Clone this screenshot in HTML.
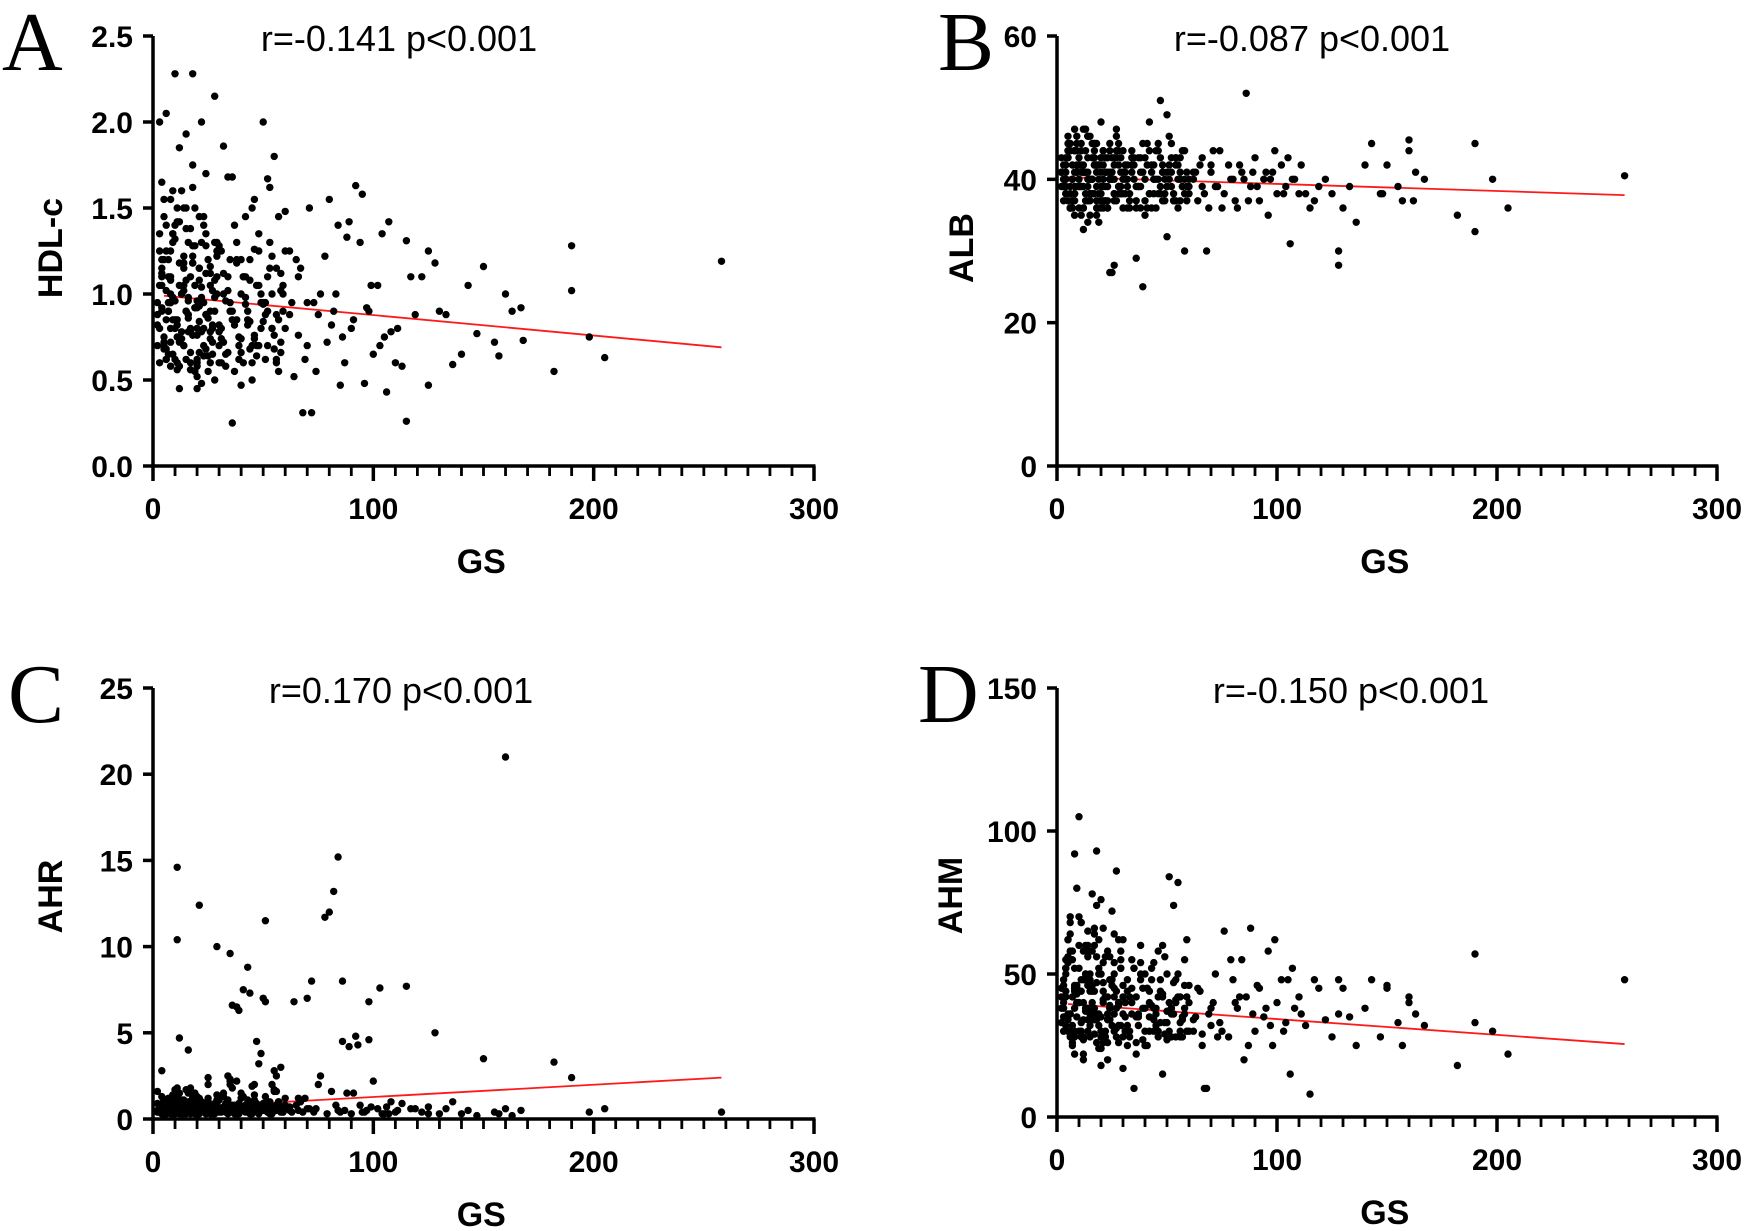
<!DOCTYPE html>
<html><head><meta charset="utf-8">
<style>
html,body{margin:0;padding:0;background:#fff;}
svg{display:block;}
.tick{font-family:"Liberation Sans",sans-serif;font-weight:bold;font-size:30px;fill:#000;}
.ttl{font-family:"Liberation Sans",sans-serif;font-size:36px;fill:#000;}
.axt{font-family:"Liberation Sans",sans-serif;font-weight:bold;font-size:34px;fill:#000;}
.let{font-family:"Liberation Serif",serif;font-size:84px;fill:#000;}
</style></head>
<body>
<svg id="fig" width="1748" height="1231" viewBox="0 0 1748 1231" xmlns="http://www.w3.org/2000/svg"></svg>
<script>
// Shared GS values (x) for all panels
const gs = [3,4,5,6,7,8,9,10,11,12,13,14,15,16,17,18,19,20,21,22,23,24,25,26,27,28,29,30,
3,5,7,9,11,13,15,17,19,21,23,25,27,29,
4,6,8,10,12,14,16,18,20,22,24,26,28,
2,4,6,8,10,12,14,16,18,20,22,24,26,28,30,
3,5,8,11,14,17,20,23,26,29,
2,3,4,5,6,7,8,9,10,11,12,13,14,15,16,17,18,19,20,21,5,7,9,11,13,15,17,19,21,23,6,9,12,15,18,21,24,27,4,8,
31,32,33,34,35,36,37,38,39,40,41,42,43,44,45,46,47,48,49,50,51,52,53,54,55,56,57,58,59,60,
31,33,35,37,39,41,43,45,47,49,51,53,55,57,59,
32,36,40,44,48,52,56,60,34,38,42,46,50,54,58,
62,64,66,68,70,72,74,76,78,80,82,84,86,88,90,92,94,96,98,100,102,104,106,108,110,
63,67,71,75,79,83,87,91,95,99,103,107,111,115,119,
65,73,81,89,97,105,113,117,69,85,
122,125,128,130,133,136,140,143,147,150,155,157,160,163,167,182,190,198,205,258];
// Additional patients, GS values (core region)
const gs2 = [2,4,6,8,10,12,14,16,18,20,22,24,26,28,30,32,34,36,38,40,42,44,46,48,50,52,54,56,58,60,
3,5,7,9,11,13,15,17,19,21,23,25,27,29,31,33,35,37,39,41,43,45,47,49,51,53,55,57,59,
2,3,4,5,6,7,8,9,10,11,12,13,14,15,16,17,18,19,20,21,22,23,24,25,26,27,28,29,30,31,
4,6,8,10,12,14,16,18,20,22,24,26,28,30,32,34,36,38,40,42,44,46,48,50,52,54,56,58,62,66,70];

const hdl = [2.0,1.2,0.75,1.4,0.9,1.1,0.65,2.28,0.85,1.85,1.0,0.7,1.93,1.3,0.8,2.28,1.5,0.6,1.15,2.0,0.95,1.7,0.55,1.05,0.8,2.15,1.25,0.7,
0.6,1.55,0.95,1.35,0.75,1.6,0.9,1.1,0.55,1.45,0.8,1.2,0.65,1.0,
1.65,0.85,1.25,0.62,1.05,1.5,0.78,1.75,0.92,1.3,0.68,1.12,0.5,
0.88,1.05,2.05,0.72,1.4,0.58,1.18,0.98,1.62,0.8,0.48,1.28,0.9,1.08,0.6,
1.35,0.7,1.0,0.82,1.22,0.6,0.96,1.45,0.74,1.1,
0.95,0.8,1.1,0.68,1.25,0.9,0.58,1.3,0.85,1.5,0.72,1.0,1.15,0.62,0.88,1.38,0.76,1.05,0.52,0.93,1.2,0.65,0.98,1.42,0.78,1.08,0.56,1.28,0.84,0.7,1.02,1.6,0.74,0.9,1.18,0.66,1.35,0.82,1.12,0.95,
0.8,1.86,0.65,1.1,0.9,1.68,0.55,1.3,0.75,1.0,0.6,1.45,0.85,1.2,0.5,1.55,0.7,1.05,0.95,2.0,0.62,1.67,1.62,0.8,1.8,1.15,1.45,0.72,0.9,1.25,
1.25,0.58,0.95,1.4,0.7,1.1,0.82,1.5,0.64,1.0,0.88,1.3,0.76,0.55,1.05,
1.0,0.25,1.2,0.68,1.35,0.9,0.6,1.48,1.68,0.85,1.1,0.74,0.95,1.22,0.66,
1.25,0.52,1.1,0.31,0.7,0.31,0.55,1.0,1.22,1.55,0.9,1.4,0.75,1.33,0.8,1.63,1.3,0.48,0.9,0.65,1.05,1.35,0.43,0.78,0.6,
0.95,1.15,1.5,0.88,0.72,1.0,0.6,0.85,1.58,1.05,0.7,1.42,0.8,1.31,0.88,
1.2,0.95,0.82,1.42,0.92,0.75,0.58,1.1,0.62,0.47,
1.1,1.25,1.18,0.9,0.88,0.59,0.65,1.05,0.77,1.16,0.72,0.64,1.0,0.9,0.92,0.55,1.28,0.75,0.63,1.19];
const hdl2 = [0.82,1.15,0.68,0.95,1.32,0.74,1.05,0.88,1.22,0.62,0.98,1.12,0.78,0.9,1.28,0.72,1.02,0.85,1.18,0.66,0.94,1.08,0.76,1.25,0.84,0.7,1.0,0.88,1.12,0.8,
1.05,0.72,1.2,0.85,0.6,1.0,1.38,0.78,0.92,1.15,0.64,0.86,1.02,1.3,0.74,0.96,1.2,0.82,0.62,1.1,0.9,0.7,1.05,0.8,0.95,1.15,0.68,0.85,1.0,
0.7,1.25,0.9,1.45,0.62,1.1,0.8,1.35,0.96,0.56,1.18,0.74,1.02,1.5,0.86,0.66,1.28,0.92,0.58,1.08,0.78,1.4,0.88,0.64,1.16,0.72,0.98,1.22,0.82,0.6,
0.92,0.62,1.08,0.8,1.42,0.7,0.96,1.18,0.76,1.04,0.88,0.6,1.3,0.78,1.12,0.66,0.9,1.2,0.74,0.98,0.84,1.26,0.7,0.94,1.1,0.8,0.62,1.02,0.88,0.76,0.95];
const hdlExtraX = [115,125,190,168,20,40,12,8,45];
const hdlExtraY = [0.26,0.47,1.02,0.73,0.45,0.47,0.45,1.55,0.6];

const alb = [42,38,45,36,40,47,39,43,35,41,44,37,46,40,38,42,34,48,39,41,36,44,40,37,43,45,39,41,
40,43,37,46,39,41,35,44,38,42,36,40,47,38,
41,36,44,39,42,34,40,45,37,43,41,28,39,
39,42,36,44,40,33,46,38,41,43,37,27,40,44,38,
40,44,37,42,39,45,36,41,43,38,
41,39,43,37,45,40,38,42,36,44,39,41,46,37,40,43,35,42,38,40,44,36,41,39,47,38,42,40,37,43,39,45,41,38,42,36,40,44,39,41,
38,42,36,44,40,37,43,39,41,35,45,38,42,40,36,44,39,41,37,49,40,43,38,42,36,41,39,44,37,40,
41,37,43,39,25,42,36,44,38,40,46,37,42,39,41,
40,29,43,38,41,45,37,39,42,36,48,40,39,43,30,
40,37,43,30,41,39,44,38,42,40,36,41,52,39,43,37,40,35,41,38,42,39,31,40,38,
41,38,44,36,40,42,37,39,41,44,38,40,42,36,39,
42,39,37,41,40,43,38,37,36,40,
40,38,28,36,39,34,42,45,38,42,39,37,44,41,40,35,32.7,40,36,40.5];
const alb2 = [41,38,44,39,42,36,40,43,37,41,39,45,38,42,40,36,43,39,41,37,44,40,38,42,39,41,37,43,40,38,
39,43,37,41,45,38,40,42,36,44,39,41,37,43,40,38,42,39,45,36,41,40,43,38,42,37,40,44,39,
43,37,40,46,38,42,35,44,39,41,47,37,43,40,38,45,36,42,39,44,41,37,40,43,38,46,39,41,36,42,
40,44,38,42,36,41,45,39,43,37,40,42,38,44,39,41,36,43,40,38,42,45,37,41,39,43,40,38,41,39,42];
const albExtraX = [190,160,128,162,148,47,25,50];
const albExtraY = [45,45.5,30,37,38,51,27,32];

const ahr = [0.5,2.8,0.3,0.8,1.2,0.4,0.6,0.9,14.6,0.3,1.1,0.5,0.7,4.0,0.4,0.6,1.5,0.3,12.4,0.8,0.5,0.4,1.0,0.6,0.3,0.7,10.0,0.5,
0.4,0.9,0.6,1.4,10.4,0.7,0.3,1.8,0.5,0.8,0.4,1.2,0.6,0.9,
0.7,0.4,1.0,0.6,4.7,0.3,0.8,0.5,1.3,0.6,0.9,0.4,0.7,
1.6,0.5,0.8,0.3,0.6,1.0,0.4,0.7,1.2,0.5,0.9,0.3,0.6,0.8,0.4,
0.6,1.0,0.4,0.8,0.5,0.9,0.3,0.7,0.5,1.1,
0.5,0.8,0.3,1.0,0.6,0.4,0.9,0.7,0.3,1.2,0.5,0.8,0.4,0.6,1.0,0.3,0.7,0.5,0.9,0.4,0.6,1.1,0.3,0.8,0.5,0.7,0.4,1.3,0.6,0.9,0.3,0.5,0.8,0.4,1.0,0.6,0.7,0.5,0.3,0.9,
0.6,1.5,0.4,2.5,9.6,6.6,0.8,6.5,0.3,1.2,7.5,0.6,8.8,7.3,0.5,2.0,0.9,0.4,3.8,7.0,11.5,0.6,1.0,0.3,1.7,0.5,0.8,3.0,0.4,1.2,
0.5,0.9,2.2,0.4,6.3,1.3,0.6,0.3,4.5,0.8,6.8,0.5,2.8,1.0,0.4,
0.7,1.8,0.5,0.9,3.2,0.4,2.5,0.6,1.1,0.3,0.8,1.4,0.5,2.0,0.6,
0.5,6.8,1.2,0.4,7.0,8.0,0.6,2.5,11.7,12.0,13.2,0.5,4.5,1.5,0.3,4.8,0.8,0.4,6.8,2.2,0.6,0.3,0.7,1.0,0.4,
0.4,1.0,0.6,2.0,0.3,0.8,0.5,1.5,0.4,0.7,7.6,0.3,0.5,7.7,0.6,
0.8,0.4,1.6,4.2,0.5,0.3,0.9,0.6,1.2,0.4,
0.4,0.7,5.0,0.3,0.6,1.0,0.3,0.5,0.2,3.5,0.4,0.3,0.6,0.2,0.5,3.3,2.4,0.4,0.6,0.4];
const ahr2 = [0.4,0.9,0.6,1.2,0.3,0.8,0.5,1.5,0.7,0.4,1.0,0.6,0.3,0.9,0.5,1.3,0.7,0.4,2.2,0.6,0.8,0.3,1.1,0.5,0.9,0.4,0.7,1.6,0.5,0.8,
0.7,0.3,1.0,0.5,1.8,0.6,0.4,0.9,0.3,1.2,0.6,0.8,0.4,1.4,0.5,0.7,2.0,0.3,0.9,0.6,1.1,0.4,0.8,0.5,1.3,0.3,0.7,1.0,0.5,
0.9,0.4,1.3,0.6,0.3,1.0,0.7,0.4,1.7,0.5,0.8,0.3,1.1,0.6,0.4,0.9,0.5,1.4,0.7,0.3,1.0,0.6,0.4,2.4,0.8,0.5,0.3,0.9,0.6,0.4,
0.3,0.7,0.5,1.0,0.4,0.8,0.6,1.2,0.3,0.9,0.5,0.7,0.4,1.1,0.6,0.3,0.8,0.5,1.5,0.4,0.7,0.9,0.3,0.6,1.0,0.5,0.8,0.4,0.7,0.5,0.6];
const ahrExtraX = [160,84,86,98,93,125,15,25,35,12,45,55];
const ahrExtraY = [21,15.2,8.0,4.6,4.3,0.3,1.7,2.0,2.3,1.5,1.9,1.6];

const ahm = [40,55,30,70,25,45,35,105,48,28,60,38,32,78,44,93,36,50,26,42,58,34,46,30,86,40,52,28,
35,62,42,80,30,48,38,66,24,54,36,72,44,32,
50,28,92,40,58,34,46,74,30,56,38,64,26,
45,32,68,38,52,22,60,40,34,76,28,48,36,62,42,
38,56,30,44,65,34,50,20,42,58,
42,30,52,36,64,26,46,40,70,33,48,38,56,28,44,60,35,50,24,41,54,32,45,68,37,50,29,62,40,34,58,43,27,48,36,66,39,31,52,45,
35,48,28,55,10,42,32,60,38,25,45,40,52,30,36,58,44,15,33,50,84,38,47,28,82,42,35,55,30,40,
40,30,52,36,45,25,48,38,33,56,30,74,42,28,62,
44,22,50,34,60,38,28,46,36,54,30,42,27,48,36,
30,45,25,10,38,50,33,65,28,48,38,55,42,66,30,45,35,58,25,40,48,33,15,38,42,
35,10,40,30,55,42,25,46,38,62,30,52,36,8,45,
44,28,40,36,32,48,32,48,36,20,
34,28,48,45,35,25,38,48,28,46,33,25,42,36,32,18,57,30,22,48];
const ahm2 = [38,52,30,44,60,28,46,36,56,24,42,34,50,40,62,32,45,26,48,38,35,54,30,43,37,28,41,33,46,30,
46,34,58,40,28,50,36,64,32,44,26,48,38,55,30,42,52,35,27,45,39,32,48,29,40,36,50,34,42,
33,48,42,62,36,55,28,46,40,68,34,50,30,44,58,38,26,52,35,47,30,42,56,32,45,28,39,52,36,30,
44,36,52,30,40,58,34,47,28,42,38,54,32,46,25,40,35,50,30,44,38,28,42,33,36,40,30,38,34,29,32];
const ahmExtraX = [190,128,160,150,12,20,30,8];
const ahmExtraY = [33,36,40,45,20,18,17,22];

// Regression lines [gsStart, gsEnd] and [yStart, yEnd]
const fitX = [5, 258];
const hdlFit = [0.99, 0.69];
const albFit = [40.3, 37.8];
const ahrFit = [0.6, 2.4];
const ahmFit = [39.5, 25.5];

const xTicks = [0, 100, 200, 300];
const hdlTicks = ["0.0","0.5","1.0","1.5","2.0","2.5"];
const albTicks = ["0","20","40","60"];
const ahrTicks = ["0","5","10","15","20","25"];
const ahmTicks = ["0","50","100","150"];

const titles = ["r=-0.141 p<0.001","r=-0.087 p<0.001","r=0.170 p<0.001","r=-0.150 p<0.001"];

const NS = "http://www.w3.org/2000/svg";
const svg = document.getElementById("fig");
function mk(tag, attrs, parent, text){
  const e = document.createElementNS(NS, tag);
  for (const k in attrs) e.setAttribute(k, attrs[k]);
  if (text !== undefined) e.textContent = text;
  (parent || svg).appendChild(e);
  return e;
}

function panel(p){
  const g = mk("g", {});
  
  
  const xs = v => p.x0 + (v / 300) * (p.x1 - p.x0);
  const ys = v => p.y0 - (v / p.ymax) * (p.y0 - p.y1);

  const ln = mk("line", {x1: xs(fitX[0]), y1: ys(p.fit[0]), x2: xs(fitX[1]), y2: ys(p.fit[1]), stroke: "#ff1a1a", "stroke-width": 1.8}, g);
  
  

  const pg = mk("g", {fill: "#000"}, g);
  
  
  const X = gs.concat(gs2, p.ex);
  const Y = p.vals.concat(p.vals2, p.ey);
  for (let i = 0; i < X.length; i++) {
    const c = mk("circle", {cx: xs(X[i]).toFixed(1), cy: ys(Y[i]).toFixed(1), r: 3.7}, pg);
    
    
  }

  const ya = mk("line", {x1: p.x0, y1: p.y1, x2: p.x0, y2: p.y0 + 1.5, stroke: "#000", "stroke-width": 3.5}, g);
  
  
  const xa = mk("line", {x1: p.x0 - 1.5, y1: p.y0, x2: p.x1 + 1.5, y2: p.y0, stroke: "#000", "stroke-width": 3.5}, g);
  
  

  for (let v = 0; v <= 300; v += 10) {
    const major = v % 100 === 0;
    mk("line", {x1: xs(v), y1: p.y0, x2: xs(v), y2: p.y0 + (major ? 15 : 10), stroke: "#000", "stroke-width": major ? 3.5 : 2.8}, g);
  }
  xTicks.forEach(v => {
    const t = mk("text", {x: xs(v), y: p.y0 + 53, "text-anchor": "middle", class: "tick"}, g, String(v));
    
    
  });
  p.ticks.forEach((lab, i) => {
    const v = i * p.ymax / (p.ticks.length - 1);
    mk("line", {x1: p.x0 - 10, y1: ys(v), x2: p.x0, y2: ys(v), stroke: "#000", "stroke-width": 3.5}, g);
    const t = mk("text", {x: p.x0 - 20, y: ys(v) + 11, "text-anchor": "end", class: "tick"}, g, lab);
    
    
  });
  const xt = mk("text", {x: xs(149), y: p.y0 + 107, "text-anchor": "middle", class: "axt"}, g, "GS");
  
  
  const cy = (p.y0 + p.y1) / 2 + p.yto;
  const yt = mk("text", {x: p.ytx, y: cy, "text-anchor": "middle", class: "axt", transform: "rotate(-90 " + p.ytx + " " + cy + ")"}, g, p.ylabel);
  
  
  const tt = mk("text", {x: p.tx, y: p.y1 + 15, "text-anchor": "middle", class: "ttl"}, g, p.title);
  
  
  const lt = mk("text", {x: p.lx, y: p.y1 + 34, class: "let"}, g, p.letter);
  
  
}

panel({key:"a", x0:153, x1:814, y0:466, y1:36, ymax:2.5, vals:hdl, vals2:hdl2, ex:hdlExtraX, ey:hdlExtraY, fit:hdlFit, ticks:hdlTicks, ylabel:"HDL-c", ytx:62, yto:-3, title:titles[0], tx:399, letter:"A", lx:2});
panel({key:"b", x0:1057, x1:1717, y0:466, y1:36, ymax:60, vals:alb, vals2:alb2, ex:albExtraX, ey:albExtraY, fit:albFit, ticks:albTicks, ylabel:"ALB", ytx:973, yto:-3, title:titles[1], tx:1312, letter:"B", lx:938});
panel({key:"c", x0:153, x1:814, y0:1119, y1:688, ymax:25, vals:ahr, vals2:ahr2, ex:ahrExtraX, ey:ahrExtraY, fit:ahrFit, ticks:ahrTicks, ylabel:"AHR", ytx:62, yto:-7, title:titles[2], tx:401, letter:"C", lx:8});
panel({key:"d", x0:1057, x1:1717, y0:1117, y1:688, ymax:150, vals:ahm, vals2:ahm2, ex:ahmExtraX, ey:ahmExtraY, fit:ahmFit, ticks:ahmTicks, ylabel:"AHM", ytx:962, yto:-7, title:titles[3], tx:1351, letter:"D", lx:918});
</script>
</body></html>
